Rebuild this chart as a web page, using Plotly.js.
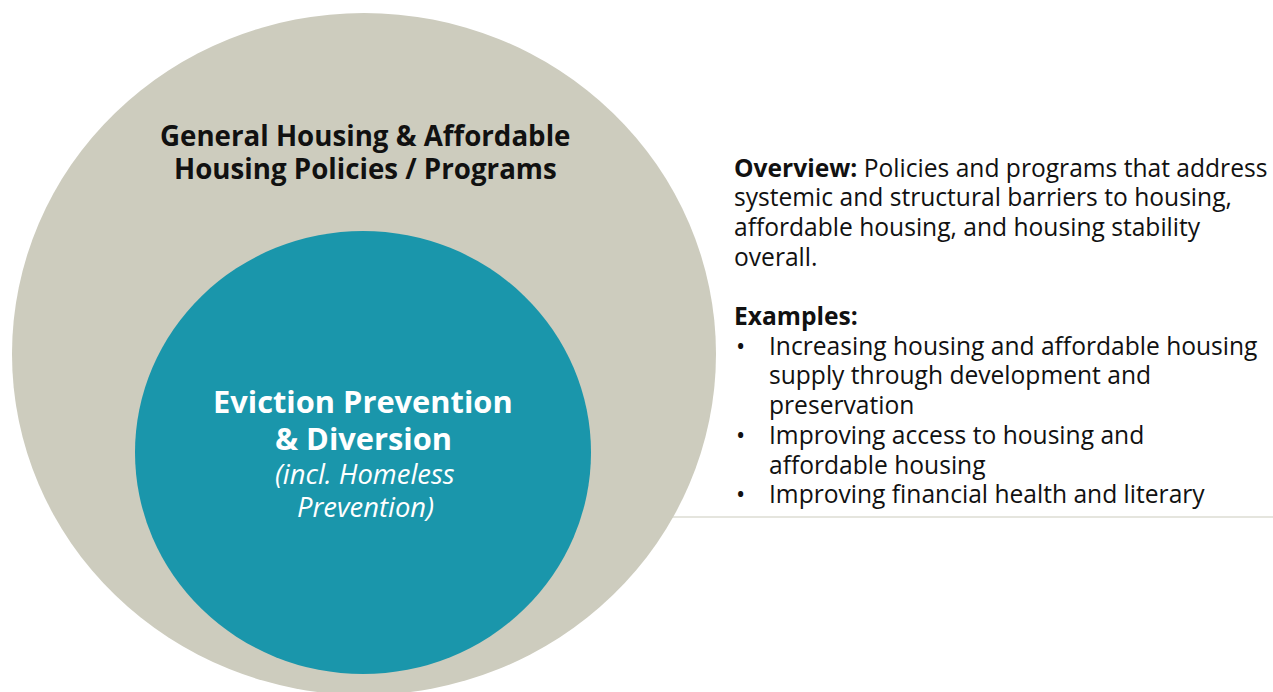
<!DOCTYPE html>
<html>
<head>
<meta charset="utf-8">
<script src="https://cdn.plot.ly/plotly-3.0.1.min.js"></script>
<style>html,body{margin:0;padding:0;background:#fff;}#chart{width:1273px;height:692px;}</style>
</head>
<body>
<div id="chart"></div>
<script>
// ---- content ----
const circleNames = ["General Housing & Affordable Housing Policies / Programs", "Eviction Prevention & Diversion"];
const outerLabelLines = ["General Housing & Affordable", "Housing Policies / Programs"];
const innerLabelLines = ["Eviction Prevention", "& Diversion"];
const innerSubLines = ["(incl. Homeless", "Prevention)"];
const overviewHead = "Overview:";
const overviewLines = [" Policies and programs that address", "systemic and structural barriers to housing,", "affordable housing, and housing stability", "overall."];
const examplesHead = "Examples:";
const exampleItems = [
  ["Increasing housing and affordable housing", "supply through development and", "preservation"],
  ["Improving access to housing and", "affordable housing"],
  ["Improving financial health and literary"]
];

// ---- layout geometry / styles ----
const W = 1273, H = 692;
const FONT = "Open Sans, Noto Sans, sans-serif";
const BEIGE = "#CDCCBE", TEAL = "#1A96AB";

const ann = [];
function txt(x, y, text, size, color, xanchor) {
  ann.push({x: x, y: y, xref: "x", yref: "y", text: text, showarrow: false,
    xanchor: xanchor || "center", yanchor: "middle", align: xanchor === "left" ? "left" : "center",
    font: {family: FONT, size: size, color: color}});
}

// outer circle label
outerLabelLines.forEach((l, i) => txt(365, 135 + i * 33, "<b>" + l + "</b>", 27.7, "#111111"));
// inner circle label
innerLabelLines.forEach((l, i) => txt(363, 401 + i * 37, "<b>" + l + "</b>", 30.8, "#ffffff"));
innerSubLines.forEach((l, i) => txt(365, 473 + i * 33, "<i>" + l + "</i>", 27.4, "#ffffff"));

// right text block
const blockTop = 167, lh = 29.7, xL = 732, xB = 734, xT = 767, fs = 24.6;
let line = 0;
overviewLines.forEach((l, i) => {
  const t = i === 0 ? "<b>" + overviewHead + "</b>" + l : l;
  txt(xL, blockTop + line * lh, t, fs, "#111111", "left");
  line++;
});
line++; // blank line
txt(xL, blockTop + line * lh, "<b>" + examplesHead + "</b>", fs, "#111111", "left");
line++;
exampleItems.forEach(item => {
  txt(xB, blockTop + line * lh, "•", fs, "#111111", "left");
  item.forEach(l => { txt(xT, blockTop + line * lh, l, fs, "#111111", "left"); line++; });
});

const shapes = [
  {type: "line", xref: "x", yref: "y", x0: 560, x1: W, y0: 517, y1: 517, layer: "below",
   line: {color: "#DCDCD3", width: 1.5}},
  {type: "circle", xref: "x", yref: "y", x0: 12, x1: 716, y0: 13, y1: 695, layer: "below",
   fillcolor: BEIGE, line: {width: 0}, name: circleNames[0]},
  {type: "circle", xref: "x", yref: "y", x0: 135, x1: 591, y0: 231, y1: 674, layer: "below",
   fillcolor: TEAL, line: {width: 0}, name: circleNames[1]}
];

const layout = {
  width: W, height: H, margin: {l: 0, r: 0, t: 0, b: 0, pad: 0},
  paper_bgcolor: "#ffffff", plot_bgcolor: "rgba(0,0,0,0)", showlegend: false,
  xaxis: {range: [0, W], visible: false, fixedrange: true},
  yaxis: {range: [H, 0], visible: false, fixedrange: true},
  shapes: shapes, annotations: ann
};
Plotly.newPlot("chart", [{x: [], y: [], type: "scatter", mode: "markers", hoverinfo: "skip"}], layout, {displayModeBar: false, staticPlot: true});
</script>
</body>
</html>
